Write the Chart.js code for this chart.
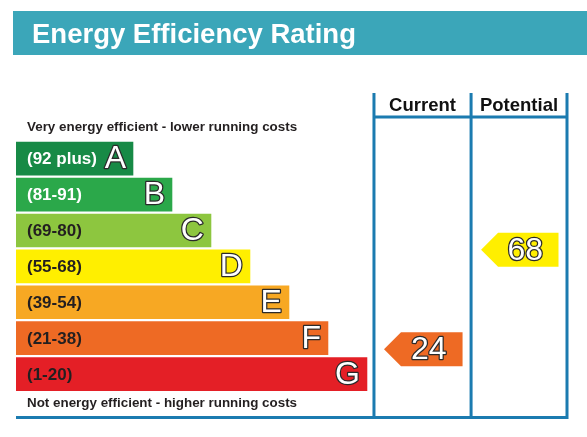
<!DOCTYPE html>
<html>
<head>
<meta charset="utf-8">
<script src="https://cdn.jsdelivr.net/npm/chart.js@4/dist/chart.umd.min.js"></script>
<style>
  html, body { margin: 0; padding: 0; background: #fff; }
  #wrap { width: 587px; height: 437px; position: relative; }
</style>
</head>
<body>
<div id="wrap"><canvas id="eer"></canvas></div>
<script>
// chart data
const title = "Energy Efficiency Rating";
const bands = ["A", "B", "C", "D", "E", "F", "G"];
const bandRanges = ["(92 plus)", "(81-91)", "(69-80)", "(55-68)", "(39-54)", "(21-38)", "(1-20)"];
const bandMin = [92, 81, 69, 55, 39, 21, 1];
const bandMax = [100, 91, 80, 68, 54, 38, 20];
const bandLengths = [3, 4, 5, 6, 7, 8, 9];
const columns = ["Current", "Potential"];
const ratings = [24, 68];
const topNote = "Very energy efficient - lower running costs";
const bottomNote = "Not energy efficient - higher running costs";

const bandColors = ["#178a46", "#2ba84a", "#8dc63f", "#ffef00", "#f7a823", "#ee6a24", "#e41f26"];
const FONT = "'Liberation Sans', Arial, sans-serif";
const FRAME = "#1b7bb0";

// which band a rating falls in
const bandOf = (v) => bandMin.findIndex((m, k) => v >= m && v <= bandMax[k]);
// position on the band axis (A = 0 at top), linear inside the band
const ratingPos = (v) => {
  const i = bandOf(v);
  return i + 0.5 - (v - bandMin[i] + 0.5) / (bandMax[i] - bandMin[i] + 1);
};

function outlined(ctx, text, x, y, size) {
  ctx.font = size + "px " + FONT;
  ctx.lineJoin = "round";
  ctx.lineWidth = 2.5;
  ctx.strokeStyle = "#2a2a2a";
  ctx.strokeText(text, x, y);
  ctx.fillStyle = "#fff";
  ctx.fillText(text, x, y);
}

const eerPlugin = {
  id: "eer",
  beforeDraw(chart) {
    const ctx = chart.ctx;
    ctx.save();
    // title banner
    ctx.fillStyle = "#3ba6b9";
    ctx.fillRect(13, 11, chart.width - 13, 44);
    ctx.fillStyle = "#fff";
    ctx.font = "bold 27.5px " + FONT;
    ctx.textBaseline = "alphabetic";
    ctx.textAlign = "left";
    ctx.fillText(title, 32, 43);
    ctx.restore();
  },
  afterDatasetsDraw(chart) {
    const ctx = chart.ctx;
    const xs = chart.scales.x, ys = chart.scales.y;
    const area = chart.chartArea;
    const colEdges = [9.18, 11.67, 14.13].map(v => xs.getPixelForValue(v));
    ctx.save();

    // band labels + letters
    const meta = chart.getDatasetMeta(0);
    meta.data.forEach((bar, i) => {
      ctx.textBaseline = "middle";
      ctx.textAlign = "left";
      ctx.font = "bold 17px " + FONT;
      ctx.fillStyle = i < 2 ? "#fff" : "#231f20";
      ctx.fillText(bandRanges[i], bar.base + 11, bar.y + 1);
      ctx.textAlign = "right";
      outlined(ctx, bands[i], bar.x - 7, bar.y + 1, 32);
    });

    // notes
    ctx.fillStyle = "#231f20";
    ctx.font = "bold 13.4px " + FONT;
    ctx.textAlign = "left";
    ctx.textBaseline = "middle";
    ctx.fillText(topNote, 27, 127);
    ctx.fillText(bottomNote, 27, 403);

    // frame
    ctx.strokeStyle = FRAME;
    ctx.lineWidth = 3;
    ctx.beginPath();
    colEdges.forEach(x => { ctx.moveTo(x, 93); ctx.lineTo(x, area.bottom); });
    ctx.moveTo(colEdges[0], 117); ctx.lineTo(colEdges[2] + 1.5, 117);
    ctx.moveTo(area.left, 417.5); ctx.lineTo(colEdges[2] + 1.5, 417.5);
    ctx.stroke();

    // column headers
    ctx.fillStyle = "#111";
    ctx.font = "bold 18.5px " + FONT;
    ctx.textAlign = "center";
    ctx.textBaseline = "alphabetic";
    columns.forEach((c, j) => {
      ctx.fillText(c, (colEdges[j] + colEdges[j + 1]) / 2, 110.5);
    });

    // rating arrows
    ratings.forEach((v, j) => {
      const left = colEdges[j] + 10;
      const right = colEdges[j + 1] - 8.5;
      const y = ys.getPixelForValue(ratingPos(v));
      const h = 34, tip = 17;
      ctx.fillStyle = bandColors[bandOf(v)];
      ctx.beginPath();
      ctx.moveTo(left, y);
      ctx.lineTo(left + tip, y - h / 2);
      ctx.lineTo(right, y - h / 2);
      ctx.lineTo(right, y + h / 2);
      ctx.lineTo(left + tip, y + h / 2);
      ctx.closePath();
      ctx.fill();
      ctx.textAlign = "center";
      ctx.textBaseline = "middle";
      outlined(ctx, String(v), (left + tip + right) / 2 - 3, y + 1, 32);
    });
    ctx.restore();
  }
};

new Chart(document.getElementById("eer"), {
  type: "bar",
  data: {
    labels: bands,
    datasets: [{
      data: bands.map((b, i) => ({ x: bandLengths[i], y: i })),
      backgroundColor: bandColors,
      borderWidth: 0,
      barThickness: 33
    }]
  },
  options: {
    indexAxis: "y",
    responsive: true,
    maintainAspectRatio: false,
    animation: false,
    layout: { padding: { left: 16, right: 20, top: 94, bottom: 18 } },
    scales: {
      x: { type: "linear", min: 0, max: 14.13, display: false },
      y: { type: "linear", min: -1.8, max: 7.25, reverse: true, offset: false, display: false }
    },
    plugins: {
      legend: { display: false },
      tooltip: { enabled: false }
    }
  },
  plugins: [eerPlugin]
});
</script>
</body>
</html>
